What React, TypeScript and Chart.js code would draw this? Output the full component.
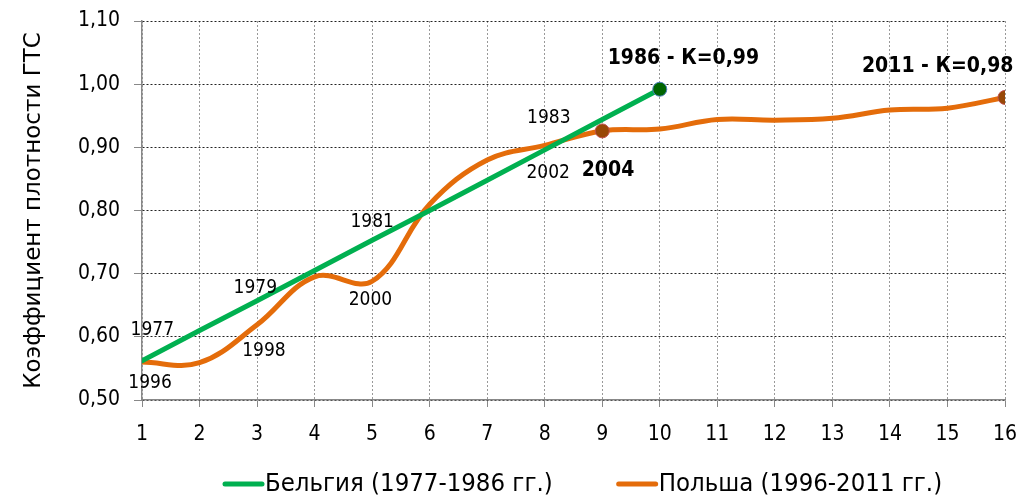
import React, { useEffect, useRef } from "react";
import { Chart, registerables } from "chart.js";

Chart.register(...registerables);

const xValues = [1, 2, 3, 4, 5, 6, 7, 8, 9, 10, 11, 12, 13, 14, 15, 16];
const belgiumValues = [0.562, 0.610, 0.657, 0.705, 0.753, 0.800, 0.848, 0.896, 0.944, 0.992];
const polandValues = [0.560, 0.559, 0.619, 0.695, 0.688, 0.810, 0.880, 0.903, 0.926, 0.929, 0.944, 0.943, 0.946, 0.959, 0.962, 0.979];
const seriesNames = ["Бельгия (1977-1986 гг.)", "Польша (1996-2011 гг.)"];
const yTitle = "Коэффициент плотности ГТС";

// Year annotations (text, x value, y value, bold)
const annotationTexts = ["1977", "1996", "1998", "1979", "2000", "1981", "1983", "2002", "2004", "1986 - К=0,99", "2011 - К=0,98"];
const annotationX = [1.18, 1.14, 3.12, 2.97, 4.97, 5.0, 8.07, 8.06, 9.1, 10.41, 14.83];
const annotationY = [0.61, 0.527, 0.577, 0.677, 0.658, 0.782, 0.946, 0.859, 0.864, 1.041, 1.028];
const annotationBold = [false, false, false, false, false, false, false, false, true, true, true];

const GREEN = "#00b050";
const ORANGE = "#e46c0a";
const FONT = "'DejaVu Sans Condensed', 'DejaVu Sans'";

export default function App() {
  const ref = useRef<HTMLCanvasElement | null>(null);
  useEffect(() => {
    document.body.style.margin = "0";
    const canvas = ref.current!;
    const labelsPlugin = {
      id: "yearLabels",
      afterDatasetsDraw(chart: any) {
        const { ctx, scales } = chart;
        ctx.save();
        ctx.fillStyle = "#000";
        ctx.textAlign = "center";
        ctx.textBaseline = "middle";
        annotationTexts.forEach((t, i) => {
          ctx.font = annotationBold[i] ? `bold 21px ${FONT}` : `19px ${FONT}`;
          ctx.fillText(t, scales.x.getPixelForValue(annotationX[i]), scales.y.getPixelForValue(annotationY[i]));
        });
        ctx.restore();
      },
    };
    const legendPlugin = {
      id: "customLegend",
      afterDraw(chart: any) {
        const { ctx } = chart;
        ctx.save();
        ctx.font = `25.5px ${FONT}`;
        ctx.textBaseline = "middle";
        ctx.textAlign = "left";
        const y = 484;
        let x = 225;
        chart.data.datasets.forEach((ds: any) => {
          ctx.strokeStyle = ds.borderColor;
          ctx.lineWidth = 5;
          ctx.lineCap = "round";
          ctx.beginPath();
          ctx.moveTo(x, y);
          ctx.lineTo(x + 37, y);
          ctx.stroke();
          ctx.fillStyle = "#000";
          ctx.fillText(ds.label, x + 40, y);
          x += 40 + ctx.measureText(ds.label).width + 66;
        });
        ctx.restore();
      },
    };
    const chart = new Chart(canvas, {
      type: "line",
      data: {
        datasets: [
          {
            label: seriesNames[0],
            data: belgiumValues.map((v, i) => ({ x: xValues[i], y: v })),
            borderColor: GREEN,
            backgroundColor: GREEN,
            borderWidth: 5,
            tension: 0,
            pointRadius: (c: any) => (c.dataIndex === belgiumValues.length - 1 ? 7 : 0),
            pointBackgroundColor: "#006400",
            pointBorderColor: "#4f81bd",
            pointBorderWidth: 1,
          },
          {
            label: seriesNames[1],
            data: polandValues.map((v, i) => ({ x: xValues[i], y: v })),
            borderColor: ORANGE,
            backgroundColor: ORANGE,
            borderWidth: 5,
            tension: 0.38,
            pointRadius: (c: any) => (c.dataIndex === 8 || c.dataIndex === 15 ? 7 : 0),
            pointBackgroundColor: "#984807",
            pointBorderColor: "#c0504d",
            pointBorderWidth: 1,
          },
        ],
      },
      options: {
        responsive: false,
        animation: false,
        layout: { padding: { top: 21, right: 25, bottom: 55, left: 0 } },
        plugins: { legend: { display: false }, tooltip: { enabled: false } },
        scales: {
          x: {
            type: "linear",
            min: 1,
            max: 16,
            afterFit: (s: any) => {
              s.height = 44;
              s.paddingLeft = 0;
              s.paddingRight = 0;
            },
            ticks: {
              stepSize: 1,
              color: "#000",
              font: { family: FONT, size: 21 },
              padding: 15,
            },
            grid: {
              color: "#999",
              tickColor: "#888",
              tickLength: 7,
              tickBorderDash: [],
            },
            border: { color: "#888", width: 1.5, dash: [2, 2] },
          },
          y: {
            min: 0.5,
            max: 1.1,
            afterFit: (s: any) => {
              s.width = 142;
              s.paddingTop = 0;
              s.paddingBottom = 0;
            },
            ticks: {
              stepSize: 0.1,
              color: "#000",
              padding: 14,
              font: { family: FONT, size: 21 },
              callback: (v: any) => Number(v).toFixed(2).replace(".", ","),
            },
            grid: {
              color: "#222",
              tickColor: "#888",
              tickLength: 8,
              tickBorderDash: [],
            },
            border: { color: "#888", width: 1.5, dash: [2, 2] },
            title: {
              display: true,
              text: yTitle,
              color: "#000",
              font: { family: "'DejaVu Sans'", size: 23 },
              padding: { top: 20, bottom: 0 },
            },
          },
        },
        elements: { line: { borderCapStyle: "round" } },
      },
      plugins: [labelsPlugin, legendPlugin],
    } as any);
    return () => chart.destroy();
  }, []);
  return <canvas ref={ref} width={1030} height={499} />;
}
